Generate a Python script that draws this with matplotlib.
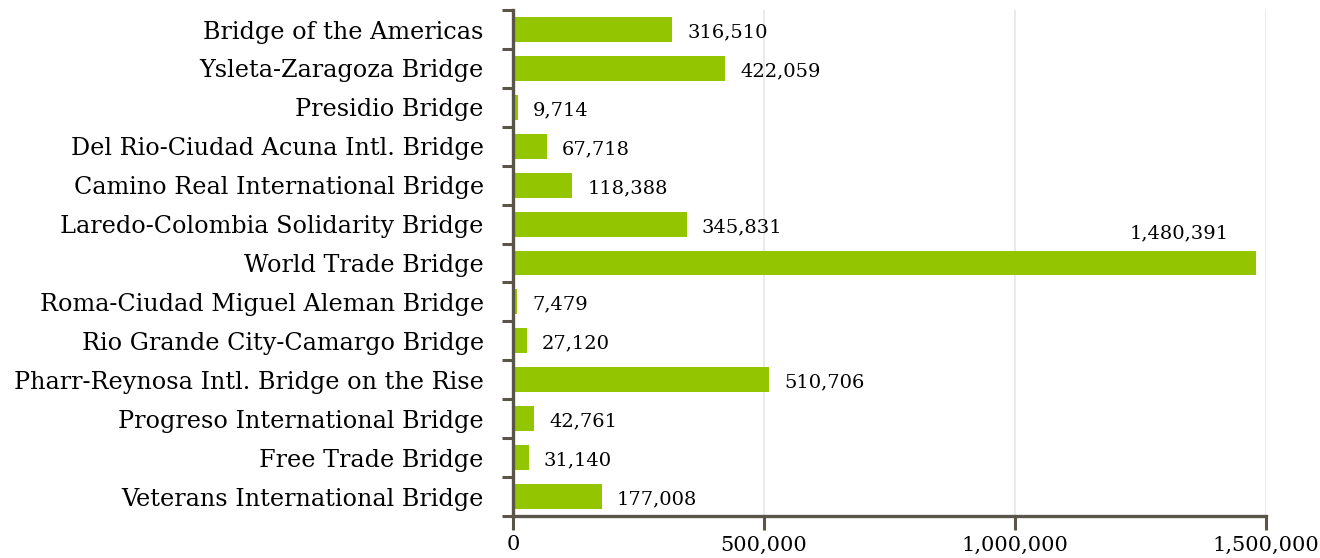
import matplotlib
matplotlib.use("Agg")
import matplotlib.pyplot as plt
from matplotlib.ticker import FuncFormatter, FixedLocator

bridges = [
    "Bridge of the Americas",
    "Ysleta-Zaragoza Bridge",
    "Presidio Bridge",
    "Del Rio-Ciudad Acuna Intl. Bridge",
    "Camino Real International Bridge",
    "Laredo-Colombia Solidarity Bridge",
    "World Trade Bridge",
    "Roma-Ciudad Miguel Aleman Bridge",
    "Rio Grande City-Camargo Bridge",
    "Pharr-Reynosa Intl. Bridge on the Rise",
    "Progreso International Bridge",
    "Free Trade Bridge",
    "Veterans International Bridge",
]
values = [316510, 422059, 9714, 67718, 118388, 345831, 1480391,
          7479, 27120, 510706, 42761, 31140, 177008]
xticks = [0, 500000, 1000000, 1500000]

plt.rcParams['font.family'] = ['DejaVu Serif']

fig = plt.figure(figsize=(13.2, 5.58), dpi=100)
ax = fig.add_axes([0.3886, 0.0753, 0.959 - 0.3886, 0.982 - 0.0753])

axis_col = '#595548'
bar_col = '#94C600'
n = len(bridges)
ypos = list(range(n))
ax.barh(ypos, values, height=0.64, color=bar_col, zorder=2)
ax.set_ylim(n - 0.5, -0.5)
ax.set_xlim(0, 1500000)

ax.set_yticks(ypos)
ax.set_yticklabels(bridges, fontsize=17.2, color='black')
ax.yaxis.set_minor_locator(FixedLocator([i - 0.5 for i in range(n + 1)]))
ax.tick_params(axis='y', which='major', length=0, pad=21)
ax.tick_params(axis='y', which='minor', length=8, width=2.2, color=axis_col)

ax.set_xticks(xticks)
ax.xaxis.set_major_formatter(FuncFormatter(lambda v, p: f"{int(v):,}"))
ax.tick_params(axis='x', length=10, width=2.2, color=axis_col, labelsize=15, pad=4)

ax.grid(axis='x', color='#E6E6E6', linewidth=1.2, zorder=0)
for s in ['top', 'right']:
    ax.spines[s].set_visible(False)
for s in ['left', 'bottom']:
    ax.spines[s].set_color(axis_col)
    ax.spines[s].set_linewidth(2.4)

for y, v in zip(ypos, values):
    if v > 1200000:
        ax.annotate(f"{v:,}", xy=(v, y - 0.32), xytext=(-20, 6), textcoords='offset points',
                    ha='right', va='bottom', fontsize=14)
    else:
        ax.annotate(f"{v:,}", xy=(v, y), xytext=(11, -2), textcoords='offset points',
                    ha='left', va='center', fontsize=14)

fig.savefig('out.png', dpi=100)
